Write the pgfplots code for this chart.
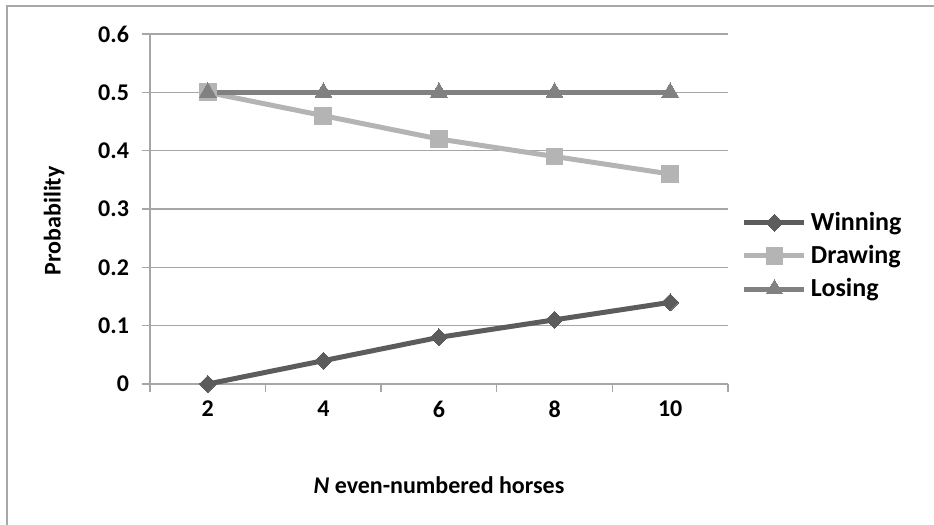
\documentclass[border=0pt]{standalone}
\usepackage{fontspec}
\setmainfont{Carlito}
\usepackage{pgfplots}
\pgfplotsset{compat=1.18}
\definecolor{gridgray}{HTML}{A6A6A6}
\definecolor{wincol}{HTML}{5C5C5C}
\definecolor{drawcol}{HTML}{B4B4B4}
\definecolor{losecol}{HTML}{818181}
\definecolor{framecol}{HTML}{A8A8A8}
\begin{document}
\begin{tikzpicture}
\path[use as bounding box] (0,0) rectangle (467pt,262.5pt);
\draw[framecol, line width=0.6pt] (3.5pt,0) -- (3.5pt,259.5pt) -- (467pt,259.5pt);
\begin{axis}[
  at={(75pt,70.5pt)}, anchor=south west,
  scale only axis, width=289pt, height=175pt,
  xmin=-0.5, xmax=4.5, ymin=0, ymax=0.6,
  axis x line=bottom, axis y line=left,
  axis line style={-, draw=gridgray, line width=0.7pt},
  tick align=outside,
  major tick length=4pt,
  tick style={draw=gridgray, line width=0.7pt},
  xtick={-0.5,0.5,1.5,2.5,3.5,4.5},
  x tick label as interval,
  xticklabels={2,4,6,8,10},
  ytick={0,0.1,0.2,0.3,0.4,0.5,0.6},
  yticklabels={0,0.1,0.2,0.3,0.4,0.5,0.6},
  ymajorgrids,
  grid style={draw=gridgray, line width=0.7pt},
  tick label style={font=\fontsize{12}{14.4}\selectfont\bfseries},
  yticklabel style={xshift=-3pt},
  xticklabel style={yshift=-1pt},
  xlabel={{\itshape N} even-numbered horses},
  ylabel={Probability},
  every axis x label/.style={at={(axis description cs:0.5,-0.289)}, anchor=center, font=\fontsize{12}{14.4}\selectfont\bfseries},
  every axis y label/.style={at={(axis description cs:-0.166,0.466)}, rotate=90, anchor=center, font=\fontsize{12}{14.4}\selectfont\bfseries},
  legend style={at={(axis description cs:1.02,0.366)}, anchor=west, draw=none, fill=none,
    font=\fontsize{13}{15.6}\selectfont\bfseries, row sep=2pt, inner sep=1pt},
  legend cell align=left,
  legend image code/.code={\draw[mark repeat=2,mark phase=2] plot coordinates {(0pt,0pt)(15pt,0pt)(30pt,0pt)};},
  clip=false,
]
\addplot[wincol, line width=2.5pt, mark=square*, mark size=3pt, mark options={rotate=45, fill=wincol, draw=wincol, line width=0pt}]
  coordinates {(0,0) (1,0.04) (2,0.08) (3,0.11) (4,0.14)};
\addlegendentry{Winning}
\addplot[drawcol, line width=2.5pt, mark=square*, mark size=4.2pt, mark options={fill=drawcol, draw=drawcol, line width=0pt}]
  coordinates {(0,0.5) (1,0.46) (2,0.42) (3,0.39) (4,0.36)};
\addlegendentry{Drawing}
\addplot[losecol, line width=2.5pt, mark=triangle*, mark size=4.8pt, mark options={fill=losecol, draw=losecol, line width=0pt}]
  coordinates {(0,0.5) (1,0.5) (2,0.5) (3,0.5) (4,0.5)};
\addlegendentry{Losing}
\end{axis}
\end{tikzpicture}
\end{document}
